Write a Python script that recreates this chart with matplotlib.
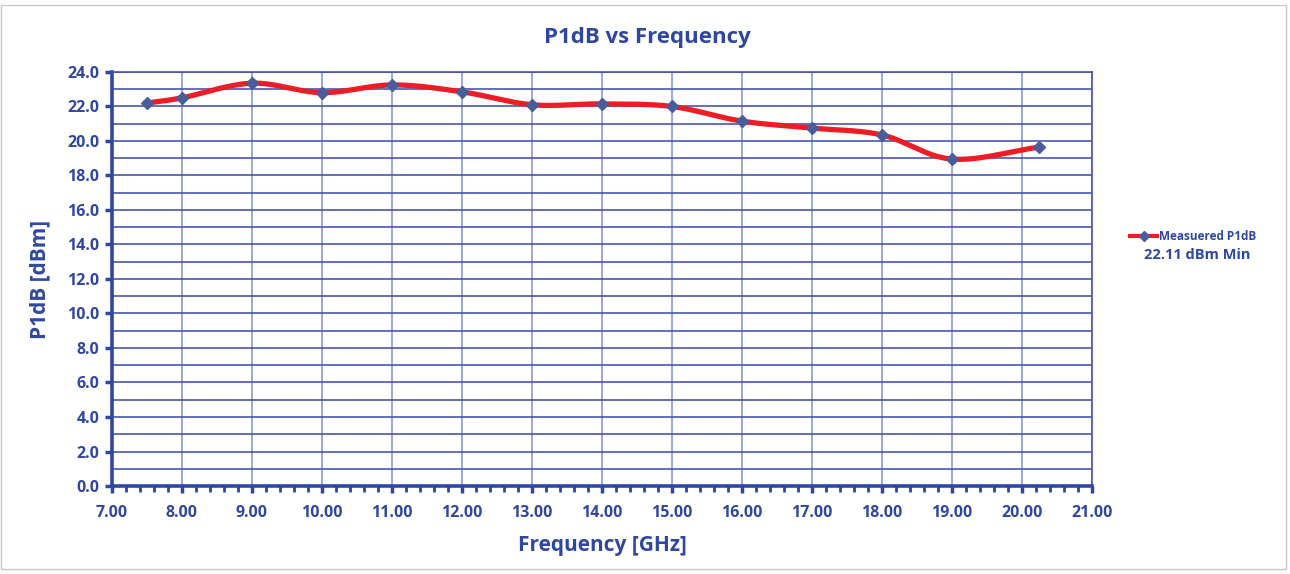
import numpy as np
import matplotlib
matplotlib.use("Agg")
import matplotlib.pyplot as plt
from matplotlib.lines import Line2D
from matplotlib.patches import Rectangle

freq_ghz = [7.5, 8.0, 9.0, 10.0, 11.0, 12.0, 13.0, 14.0, 15.0, 16.0, 17.0, 18.0, 19.0, 20.25]
p1db_dbm = [22.2, 22.5, 23.35, 22.8, 23.25, 22.85, 22.1, 22.15, 22.0, 21.15, 20.75, 20.35, 18.95, 19.65]

series_label = "Measuered P1dB"
note_text = "22.11 dBm Min"
blue = "#2f47a0"
grid_col = "#4353ad"
red = "#ee1c25"
marker_col = "#4a5c9a"


def smooth(x, y, n=30):
    # Catmull-Rom style smoothing like a spreadsheet "smoothed line"
    x = np.asarray(x, float)
    y = np.asarray(y, float)
    px = np.concatenate([[2 * x[0] - x[1]], x, [2 * x[-1] - x[-2]]])
    py = np.concatenate([[2 * y[0] - y[1]], y, [2 * y[-1] - y[-2]]])
    xs, ys = [], []
    t = np.linspace(0, 1, n)
    for i in range(1, len(px) - 2):
        p0, p1, p2, p3 = [np.array([px[j], py[j]]) for j in (i - 1, i, i + 1, i + 2)]
        c1 = p1 + (p2 - p0) / 6
        c2 = p2 - (p3 - p1) / 6
        b = (np.outer((1 - t) ** 3, p1) + np.outer(3 * (1 - t) ** 2 * t, c1)
             + np.outer(3 * (1 - t) * t ** 2, c2) + np.outer(t ** 3, p2))
        xs.extend(b[:, 0])
        ys.extend(b[:, 1])
    return xs, ys


plt.rcParams['font.family'] = ['Open Sans', 'DejaVu Sans']

fig = plt.figure(figsize=(12.9, 5.74), dpi=100)
ax = fig.add_axes([0.0868, 0.1533, 0.7597, 0.7213])

sx, sy = smooth(freq_ghz, p1db_dbm)
ax.plot(sx, sy, color=red, lw=3.8, solid_capstyle='round', zorder=3)
ax.plot(freq_ghz, p1db_dbm, ls='none', marker='D', ms=6.5, color=marker_col,
        markeredgecolor=marker_col, zorder=4)

ax.set_xlim(7, 21)
ax.set_ylim(0, 24)
ax.set_xticks(np.arange(7, 21.01, 1))
ax.set_xticks(np.arange(7, 21.01, 0.2), minor=True)
ax.set_yticks(np.arange(0, 24.01, 2))
ax.set_yticks(np.arange(1, 24, 2), minor=True)
ax.set_xticklabels([f"{v:.2f}" for v in np.arange(7, 21.01, 1)])
ax.set_yticklabels([f"{v:.1f}" for v in np.arange(0, 24.01, 2)])

ax.grid(True, axis='y', which='both', color=grid_col, lw=1.3, alpha=0.9)
ax.grid(True, axis='x', which='major', color=grid_col, lw=1.2, alpha=0.6)

for s in ['top', 'right']:
    ax.spines[s].set_color(grid_col)
    ax.spines[s].set_linewidth(1.3)
    ax.spines[s].set_alpha(0.9)
for s in ['left', 'bottom']:
    ax.spines[s].set_color(blue)
    ax.spines[s].set_linewidth(2.6)

ax.tick_params(axis='both', which='major', direction='out', length=5, width=2.5,
               color=blue, labelcolor=blue, labelsize=11.5, pad=4)
ax.tick_params(axis='x', which='major', pad=9)
ax.tick_params(axis='x', which='minor', direction='out', length=4, width=2, color=blue)
ax.tick_params(axis='y', which='minor', length=0)
for lab in ax.get_xticklabels() + ax.get_yticklabels():
    lab.set_fontweight('bold')

fig.text(0.502, 0.935, "P1dB vs Frequency", color=blue, fontsize=16, fontweight='bold',
         ha='center', va='center')
ax.set_xlabel("Frequency [GHz]", color=blue, fontsize=15, fontweight='bold', labelpad=10)
ax.set_ylabel("P1dB [dBm]", color=blue, fontsize=15, fontweight='bold', labelpad=12)

handle = Line2D([], [], color=red, lw=3, marker='D', ms=5, markerfacecolor=marker_col,
                markeredgecolor=marker_col)
leg = fig.legend([handle], [series_label], loc='center left',
                 bbox_to_anchor=(0.868, 0.588), frameon=False, handlelength=2.3,
                 handletextpad=0.1, prop={'weight': 'bold', 'size': 8.5})
for t in leg.get_texts():
    t.set_color(blue)
fig.text(0.887, 0.555, note_text, color=blue, fontsize=10.5, fontweight='bold', va='center')

fig.patches.append(Rectangle((0.001, 0.008), 0.996, 0.983, transform=fig.transFigure,
                             fill=False, edgecolor='#c8c8c8', lw=1))

fig.savefig("out.png", dpi=100)
